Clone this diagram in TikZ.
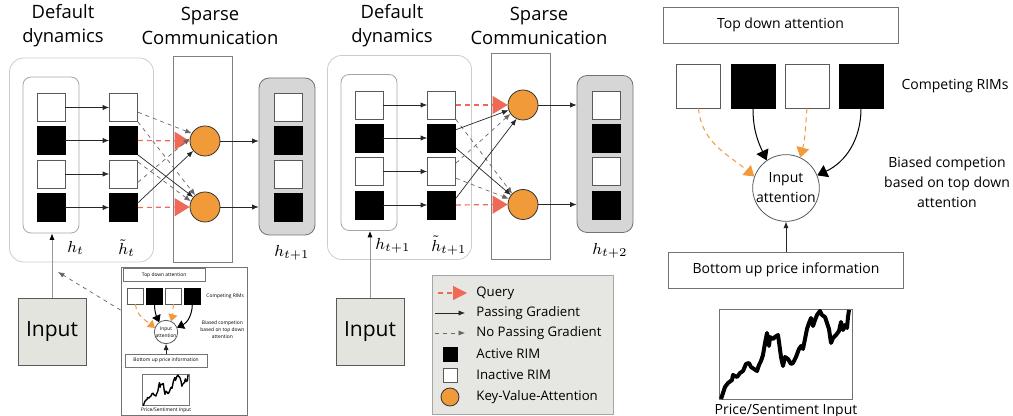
\documentclass[tikz,border=0pt]{standalone}
\usepackage{fontspec}
\setmainfont{Open Sans}
\usetikzlibrary{arrows.meta,positioning}

\definecolor{kvorange}{RGB}{240,154,58}
\definecolor{qred}{RGB}{238,106,86}
\definecolor{outgray}{RGB}{214,214,214}
\definecolor{leggray}{RGB}{230,230,226}
\definecolor{inpgray}{RGB}{228,228,222}

\tikzset{
  blocktitle/.style={align=center, font=\fontsize{9.2}{12}\selectfont},
  hlab/.style={anchor=west, inner sep=0pt, font=\fontsize{8.5}{10}\selectfont},
  rimoff/.style={draw=black!65, fill=white, minimum size=14pt, inner sep=0pt},
  rimon/.style={rimoff, draw=black, fill=black},
  kv/.style={circle, draw=black!80, fill=kvorange, minimum size=15pt, inner sep=0pt},
  outerbox/.style={draw=black!20, rounded corners=7pt, minimum width=72pt, minimum height=102pt},
  innerbox/.style={draw=black!35, rounded corners=4pt, minimum width=28pt, minimum height=78pt},
  sparsebox/.style={draw=black!50, minimum width=29.5pt, minimum height=103pt},
  outbox/.style={draw=black!55, fill=outgray, rounded corners=5pt, minimum width=28pt, minimum height=78.5pt},
  pass/.style={draw=black!85, line width=0.35pt, -{Latex[length=3.2pt,width=2.6pt]}},
  nopass/.style={pass, draw=black!60, dash pattern=on 2pt off 2pt},
  query/.style={draw=qred, line width=0.6pt, dash pattern=on 2.5pt off 2pt, -{Triangle[length=7.5pt,width=9pt]}},
  inputbox/.style={draw=black!65, fill=inpgray, minimum width=34pt, minimum height=33.5pt, font=\fontsize{10.5}{12}\selectfont},
  legbox/.style={draw=black!35, fill=leggray, minimum width=90.5pt, minimum height=69.5pt},
  legtxt/.style={anchor=west, inner sep=0pt, font=\fontsize{6.6}{8}\selectfont},
  % attention panel
  panelbox/.style={draw=black!55, minimum width=117.5pt, minimum height=18pt, font=\fontsize{7}{9}\selectfont},
  paneltxt/.style={align=center, font=\fontsize{7}{10}\selectfont},
  bigoff/.style={draw=black!65, fill=white, minimum size=22pt, inner sep=0pt},
  bigon/.style={bigoff, draw=black, fill=black},
  attn/.style={circle, draw=black!65, minimum size=32pt, inner sep=0pt, align=center, font=\fontsize{7}{10}\selectfont},
  chartbox/.style={draw=black!55, minimum width=66.5pt, minimum height=45pt},
  odash/.style={draw=kvorange, line width=0.5pt, dash pattern=on 2.5pt off 2pt, -{Triangle[length=5pt,width=6.5pt]}},
  bsolid/.style={draw=black, line width=0.5pt, -{Triangle[length=5pt,width=6.5pt]}},
  price/.style={line width=2pt, line join=round},
}

% top down / bottom up attention panel (drawn twice)
\newcommand{\attnpanel}{%
  \node[panelbox] (td) at (780.5,25) {Top down attention};
  \foreach \i/\x/\s in {1/698.5/bigoff,2/753/bigon,3/807/bigoff,4/861/bigon}
    \node[\s] (r\i) at (\x,86) {};
  \node[paneltxt] (crim) at (955,86) {Competing RIMs};
  \node[attn] (ia) at (786,188) {Input\\attention};
  \node[paneltxt] (bias) at (947,182) {Biased competion\\based on top down\\attention};
  \node[panelbox] (bu) at (786,270) {Bottom up price information};
  \node[chartbox] (chart) at (785.5,354) {};
  \node[paneltxt] (psi) at (786,411) {Price/Sentiment Input};
  \draw[odash] (r1.south) to[out=-85,in=140] (ia.160);
  \draw[bsolid] (r2.south) to[out=-90,in=115] (ia.125);
  \draw[odash] (r3.south) to[out=-95,in=75] (ia.65);
  \draw[bsolid] (r4.south) to[out=-90,in=25] (ia.22);
  \draw[pass] (bu.north) -- (ia.south);
  \draw[price] plot coordinates {(721,399) (725,387) (728,383) (732,380) (733,375)
    (737,377) (740,373) (743,371) (746,364) (749,363) (751,367) (754,369)
    (757,371) (759,365) (761,361) (763,355) (765,343) (767,333) (769,346)
    (770,337) (773,339) (775,337) (778,335) (779,342) (781,357) (783,366)
    (785,357) (788,359) (791,364) (793,363) (796,357) (799,349) (801,346)
    (803,349) (805,339) (807,329) (809,323) (811,318) (813,326) (815,320)
    (817,315) (820,311) (822,315) (825,317) (827,323) (829,329) (831,343)
    (833,338) (836,335) (839,331) (841,322) (843,330) (845,325) (847,328)
    (848,317) (849,310)};
}

\begin{document}
\begin{tikzpicture}[x=0.5pt,y=-0.5pt]
  \useasboundingbox (0,0) rectangle (1013,416);

  \node[blocktitle] (dd1) at (63,26) {Default\\dynamics};
  \node[blocktitle] (sc1) at (210,26) {Sparse\\Communication};
  \node[blocktitle] (dd2) at (392,26) {Default\\dynamics};
  \node[blocktitle] (sc2) at (539,26) {Sparse\\Communication};

  % two RIM steps
  \foreach \blk/\dx/\dy/\ky/\xa/\xb/\ha/\hb/\hc in
    {1/0/0/141/67/118/{h_t}/{\tilde{h}_t}/{h_{t+1}},
     2/318/-2.5/107.5/57/113/{h_{t+1}}/{\tilde{h}_{t+1}}/{h_{t+2}}}{
    \begin{scope}[shift={(\dx,\dy)}]
      \node[outerbox] (dyn\blk) at (81.5,160) {};
      \node[innerbox] (hbox\blk) at (51,155) {};
      \node[sparsebox] (sp\blk) at (202.5,159) {};
      \node[outbox] (hout\blk) at (287,156.5) {};
      \foreach \i/\y/\s in {1/107.5/rimoff,2/140.5/rimon,3/174/rimoff,4/207.5/rimon}{
        \node[\s] (a\blk\i) at (51,\y) {};
        \node[\s] (b\blk\i) at (123.5,\y) {};
        \node[\s] (o\blk\i) at (288,\y) {};
        \draw[pass] (a\blk\i) -- (b\blk\i);
      }
      \node[kv] (k\blk1) at (205,\ky) {};
      \node[kv] (k\blk2) at (205,207) {};
      \draw[pass] (k\blk1.east) -- (k\blk1 -| hout\blk.west);
      \draw[pass] (k\blk2.east) -- (k\blk2 -| hout\blk.west);
      \node[hlab] (lh\blk) at (\xa,248) {$\ha$};
      \node[hlab] (lt\blk) at (\xb,248) {$\hb$};
      \node[hlab] (lo\blk) at (274,253) {$\hc$};
    \end{scope}
  }

  % communication, first step
  \draw[nopass] (b11.-18) -- (k11.150);
  \draw[nopass] (b11.south east) -- (k12.130);
  \draw[query] (b12.east) -- (k11.west);
  \draw[pass] (b12.south east) -- (k12.140);
  \draw[nopass] (b13.40) -- (k12.158);
  \draw[nopass] (b13.-30) -- (k11.170);
  \draw[pass] (b14.18) -- (k11.-140);
  \draw[query] (b14.east) -- (k12.west);

  % communication, second step
  \draw[query] (b21.east) -- (k21.west);
  \draw[nopass] (b21.south east) -- (k22.135);
  \draw[pass] (b22.30) -- (k21.-160);
  \draw[pass] (b22.-35) -- (k22.142);
  \draw[nopass] (b23.30) -- (k21.-145);
  \draw[nopass] (b23.-25) -- (k22.158);
  \draw[pass] (b24.25) -- (k21.-115);
  \draw[query] (b24.east) -- (k22.west);

  % input
  \node[inputbox] (inp) at (52,331.5) {Input};
  \draw[draw=black!40, line width=0.5pt, -{Latex[length=3.2pt,width=2.6pt,color=black]}]
    (inp.north) -- (inp.north |- hbox1.south);
  \node[inputbox] (inp2) at (370,331.5) {Input};
  \draw[draw=black!40, line width=0.5pt, -{Latex[length=3.2pt,width=2.6pt,color=black]}]
    (inp2.north) -- (inp2.north |- hbox2.south);

  % small copy of the attention panel
  \node[draw=black!55, minimum width=63pt, minimum height=74pt] (inset) at (184,341) {};
  \begin{scope}[shift={(-109.05,266.2)}, scale=0.35, transform shape,
      price/.style={line width=0.7pt, line join=round},
      odash/.append style={-{Triangle[length=3.5pt,width=4.5pt]}},
      bsolid/.append style={-{Triangle[length=3.5pt,width=4.5pt]}}]
    \attnpanel
  \end{scope}
  \coordinate (back) at (58,272);
  \draw[nopass] (inset.154) -- (back);

  % legend
  \node[legbox] (leg) at (522.5,344.5) {};
  \coordinate (lq0) at (438,293);
  \coordinate (lq1) at (467,293);
  \draw[query, -{Triangle[length=7pt,width=7pt]}] (lq0) -- (lq1);
  \node[legtxt] (lqt) at (476,293) {Query};
  \coordinate (lp0) at (435,313);
  \coordinate (lp1) at (465,313);
  \draw[pass] (lp0) -- (lp1);
  \node[legtxt] (lpt) at (476,313) {Passing Gradient};
  \coordinate (ln0) at (435,333);
  \coordinate (ln1) at (465,333);
  \draw[nopass] (ln0) -- (ln1);
  \node[legtxt] (lnt) at (476,333) {No Passing Gradient};
  \node[rimon, minimum size=7pt] (lact) at (450,354) {};
  \node[legtxt] (lat) at (476,354) {Active RIM};
  \node[rimoff, minimum size=7pt] (lina) at (450,375) {};
  \node[legtxt] (lit) at (476,375) {Inactive RIM};
  \node[kv, minimum size=9pt] (lkv) at (450,397) {};
  \node[legtxt] (lkt) at (476,397) {Key-Value-Attention};

  % attention panel
  \attnpanel

\end{tikzpicture}
\end{document}
